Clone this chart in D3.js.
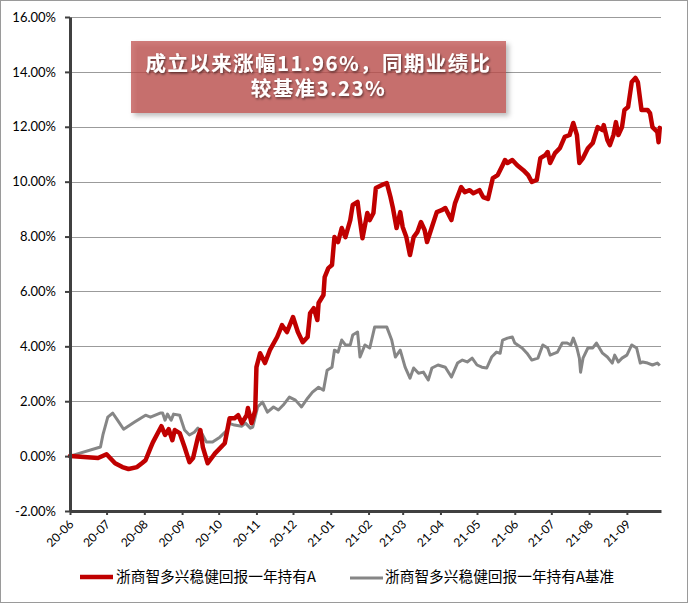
<!DOCTYPE html>
<html>
<head>
<meta charset="utf-8">
<script src="https://cdn.jsdelivr.net/npm/d3@7"></script>
<style>
html,body{margin:0;padding:0;background:#fff;}
svg{display:block;}
</style>
</head>
<body>
<svg id="chart" width="688" height="603"></svg>
<script>
// ---------------- DATA ----------------
const fundName = "浙商智多兴稳健回报一年持有A";
const benchName = "浙商智多兴稳健回报一年持有A基准";
const noteLines = ["成立以来涨幅11.96%，同期业绩比", "较基准3.23%"];
const yTicks = [-2, 0, 2, 4, 6, 8, 10, 12, 14, 16];
const xTickLabels = ["2020-06","2020-07","2020-08","2020-09","2020-10","2020-11","2020-12","2021-01","2021-02","2021-03","2021-04","2021-05","2021-06","2021-07","2021-08","2021-09"];

const fundDates = ["2020-06-01","2020-06-24","2020-07-01","2020-07-08","2020-07-14","2020-07-19","2020-07-26","2020-07-30","2020-08-02","2020-08-06","2020-08-08","2020-08-15","2020-08-18","2020-08-21","2020-08-24","2020-08-26","2020-08-30","2020-09-03","2020-09-07","2020-09-10","2020-09-14","2020-09-16","2020-09-18","2020-09-22","2020-09-28","2020-10-06","2020-10-10","2020-10-14","2020-10-17","2020-10-20","2020-10-24","2020-10-25","2020-10-28","2020-10-31","2020-11-01","2020-11-04","2020-11-08","2020-11-12","2020-11-18","2020-11-22","2020-11-26","2020-12-01","2020-12-05","2020-12-09","2020-12-13","2020-12-15","2020-12-18","2020-12-21","2020-12-22","2020-12-26","2020-12-27","2020-12-30","2021-01-02","2021-01-04","2021-01-07","2021-01-10","2021-01-13","2021-01-17","2021-01-19","2021-01-23","2021-01-24","2021-01-27","2021-01-31","2021-02-02","2021-02-05","2021-02-07","2021-02-12","2021-02-16","2021-02-19","2021-02-21","2021-02-24","2021-02-27","2021-03-01","2021-03-04","2021-03-07","2021-03-10","2021-03-13","2021-03-16","2021-03-19","2021-03-21","2021-03-25","2021-03-29","2021-04-02","2021-04-05","2021-04-10","2021-04-13","2021-04-18","2021-04-21","2021-04-25","2021-04-28","2021-05-03","2021-05-06","2021-05-10","2021-05-14","2021-05-18","2021-05-22","2021-05-24","2021-05-26","2021-05-30","2021-06-03","2021-06-08","2021-06-12","2021-06-15","2021-06-19","2021-06-22","2021-06-26","2021-06-28","2021-06-30","2021-07-04","2021-07-08","2021-07-12","2021-07-16","2021-07-19","2021-07-22","2021-07-24","2021-07-27","2021-07-31","2021-08-04","2021-08-08","2021-08-12","2021-08-13","2021-08-16","2021-08-18","2021-08-21","2021-08-23","2021-08-25","2021-08-28","2021-08-30","2021-09-02","2021-09-05","2021-09-08","2021-09-10","2021-09-13","2021-09-18","2021-09-20","2021-09-22","2021-09-26","2021-09-27","2021-09-28"];
const fundValues = [0,-0.07,0.07,-0.26,-0.4,-0.47,-0.4,-0.26,-0.15,0.29,0.5,1.09,0.77,0.98,0.58,0.95,0.84,0.33,-0.22,-0.07,0.69,0.95,0.33,-0.26,0.1,0.47,1.38,1.38,1.49,1.2,1.49,1.75,1.2,1.67,3.24,3.75,3.39,3.86,4.34,4.77,4.52,5.07,4.52,4.15,4.34,5.2,5.39,4.96,5.58,5.87,6.52,6.85,6.96,7.98,7.8,8.31,7.98,8.6,9.15,9.26,8.89,7.94,8.86,8.6,8.86,9.77,9.88,9.95,9.44,9.04,8.31,8.89,8.35,7.98,7.33,7.98,8.16,8.53,8.24,7.8,8.35,8.89,8.96,9.04,8.6,9.22,9.8,9.62,9.69,9.58,9.69,9.44,9.37,10.13,10.24,10.6,10.79,10.68,10.79,10.6,10.42,10.24,9.99,10.06,10.86,10.97,11.08,10.68,11.04,11.22,11.63,11.7,12.14,11.7,10.68,10.86,11.22,11.41,11.99,11.88,12.06,11.52,11.33,11.7,12.17,11.7,11.99,12.61,12.72,13.63,13.78,13.63,12.61,12.61,12.5,11.99,11.81,11.44,11.96];

const benchDates = ["2020-06-01","2020-06-26","2020-06-28","2020-07-02","2020-07-06","2020-07-10","2020-07-15","2020-07-24","2020-08-02","2020-08-06","2020-08-14","2020-08-16","2020-08-18","2020-08-20","2020-08-23","2020-08-25","2020-08-30","2020-09-03","2020-09-07","2020-09-11","2020-09-14","2020-09-17","2020-09-21","2020-09-26","2020-10-02","2020-10-08","2020-10-09","2020-10-14","2020-10-20","2020-10-23","2020-10-27","2020-10-29","2020-11-02","2020-11-06","2020-11-10","2020-11-15","2020-11-19","2020-11-23","2020-11-28","2020-12-03","2020-12-08","2020-12-13","2020-12-17","2020-12-22","2020-12-26","2020-12-29","2021-01-02","2021-01-04","2021-01-07","2021-01-10","2021-01-13","2021-01-17","2021-01-19","2021-01-23","2021-01-25","2021-01-29","2021-02-02","2021-02-06","2021-02-10","2021-02-16","2021-02-20","2021-02-23","2021-02-27","2021-03-03","2021-03-07","2021-03-10","2021-03-14","2021-03-18","2021-03-22","2021-03-25","2021-03-30","2021-04-05","2021-04-10","2021-04-15","2021-04-19","2021-04-23","2021-04-27","2021-05-01","2021-05-05","2021-05-09","2021-05-13","2021-05-17","2021-05-20","2021-05-22","2021-05-26","2021-05-30","2021-06-01","2021-06-07","2021-06-11","2021-06-15","2021-06-20","2021-06-24","2021-06-28","2021-06-30","2021-07-04","2021-07-06","2021-07-10","2021-07-14","2021-07-17","2021-07-19","2021-07-22","2021-07-24","2021-07-25","2021-07-27","2021-07-31","2021-08-04","2021-08-07","2021-08-12","2021-08-16","2021-08-20","2021-08-22","2021-08-25","2021-08-28","2021-09-01","2021-09-05","2021-09-09","2021-09-12","2021-09-14","2021-09-18","2021-09-22","2021-09-26","2021-09-28"];
const benchValues = [0,0.33,0.77,1.42,1.57,1.31,0.98,1.24,1.49,1.42,1.57,1.57,1.31,1.53,1.31,1.53,1.49,0.95,0.77,0.87,1.02,0.84,0.51,0.51,0.69,0.95,1.2,1.13,1.09,1.2,1.02,1.06,1.79,1.97,1.6,1.79,1.68,1.86,2.15,2.04,1.79,2.11,2.33,2.51,2.4,3.13,3.24,3.86,3.79,4.23,4.05,4.05,4.41,4.52,3.61,4.05,3.94,4.7,4.7,4.7,4.23,3.61,3.86,3.24,2.84,3.21,3.02,3.06,2.77,3.21,3.32,3.24,2.88,3.39,3.5,3.43,3.57,3.32,3.24,3.21,3.61,3.79,3.75,4.23,4.3,4.34,4.12,3.94,3.75,3.5,3.57,4.05,3.94,3.68,3.75,3.79,4.12,4.12,4.05,4.3,3.94,3.57,3.06,3.57,3.94,3.94,4.12,3.75,3.61,3.39,3.68,3.43,3.57,3.68,4.05,3.94,3.39,3.43,3.39,3.32,3.39,3.3];

// ---------------- CHART ----------------
(function () {
const parse = d3.timeParse("%Y-%m-%d");
const parseM = d3.timeParse("%Y-%m");
const fund = fundDates.map((d, i) => ({date: parse(d), v: fundValues[i]}));
const bench = benchDates.map((d, i) => ({date: parse(d), v: benchValues[i]}));

const svg = d3.select("#chart");
const W = 688, H = 603;
const pL = 70, pR = 661, pT = 17, pB = 511;

const x = d3.scaleTime().domain([parse("2020-06-01"), parse("2021-09-29")]).range([pL, pR]);
const y = d3.scaleLinear().domain([-2, 16]).range([pB, pT]);

const defs = svg.append("defs");
const f1 = defs.append("filter").attr("id", "boxShadow").attr("x", "-10%").attr("y", "-20%").attr("width", "130%").attr("height", "150%");
f1.append("feDropShadow").attr("dx", 3).attr("dy", 3).attr("stdDeviation", 2.5).attr("flood-color", "#000").attr("flood-opacity", 0.35);
const f2 = defs.append("filter").attr("id", "textShadow").attr("x", "-10%").attr("y", "-30%").attr("width", "130%").attr("height", "160%");
f2.append("feDropShadow").attr("dx", 1).attr("dy", 1.5).attr("stdDeviation", 1.2).attr("flood-color", "#000").attr("flood-opacity", 0.55);

// background + border
svg.append("rect").attr("x", 0.5).attr("y", 0.5).attr("width", W - 1).attr("height", H - 1)
  .attr("fill", "#fff").attr("stroke", "#9a9a9a").attr("stroke-width", 1);

// gridlines
svg.append("g").selectAll("line").data(yTicks).join("line")
  .attr("x1", pL).attr("x2", pR)
  .attr("y1", d => Math.round(y(d)) + 0.5).attr("y2", d => Math.round(y(d)) + 0.5)
  .attr("stroke", "#9b9b9b").attr("stroke-width", 1);

// lines
const line = d3.line().x(d => x(d.date)).y(d => y(d.v)).curve(d3.curveLinear);
svg.append("path").datum(bench).attr("d", line)
  .attr("fill", "none").attr("stroke", "#868686").attr("stroke-width", 3).attr("stroke-linejoin", "round");
svg.append("path").datum(fund).attr("d", line)
  .attr("fill", "none").attr("stroke", "#C00000").attr("stroke-width", 4.5).attr("stroke-linejoin", "round").attr("stroke-linecap", "round");

// y axis
const yAxis = svg.append("g").attr("transform", `translate(${pL},0)`)
  .call(d3.axisLeft(y).tickValues(yTicks).tickFormat(d => d.toFixed(2) + "%").tickSize(5).tickSizeOuter(0).tickPadding(9));
yAxis.select(".domain").attr("stroke", "#404040").attr("stroke-width", 3);
yAxis.selectAll(".tick line").attr("stroke", "#404040").attr("stroke-width", 2);
yAxis.selectAll("text").attr("font-family", "Lato, 'Open Sans', sans-serif").attr("font-size", 13).attr("fill", "#000");

// x axis
const xTicks = xTickLabels.map(parseM);
const xAxis = svg.append("g").attr("transform", `translate(0,${pB})`)
  .call(d3.axisBottom(x).tickValues(xTicks).tickFormat(d3.timeFormat("%y-%m")).tickSize(4).tickSizeOuter(0));
xAxis.select(".domain").attr("stroke", "#404040").attr("stroke-width", 3);
xAxis.selectAll(".tick line").attr("stroke", "#404040").attr("stroke-width", 2);
xAxis.selectAll("text")
  .attr("font-family", "Lato, 'Open Sans', sans-serif").attr("font-size", 12).attr("fill", "#000")
  .attr("x", 0).attr("y", 0).attr("dy", "0.35em")
  .attr("text-anchor", "end")
  .attr("transform", "translate(1,11) rotate(-45)");

// annotation box
const bx = 131, by = 41, bw = 375, bh = 72;
svg.append("rect").attr("x", bx).attr("y", by).attr("width", bw).attr("height", bh)
  .attr("fill", "#C0504D").attr("fill-opacity", 0.74).attr("filter", "url(#boxShadow)");
const note = svg.append("g")
  .attr("font-family", "'Noto Sans CJK SC', sans-serif").attr("font-size", 20.5).attr("font-weight", "bold")
  .attr("fill", "#fff").attr("text-anchor", "middle").attr("letter-spacing", "1.4px").attr("filter", "url(#textShadow)");
noteLines.forEach((t, i) => {
  note.append("text").attr("x", bx + bw / 2).attr("y", 71 + i * 25).text(t);
});

// legend
const lg = svg.append("g").attr("font-family", "'Noto Sans CJK SC', sans-serif").attr("font-size", 14.7).attr("fill", "#000");
lg.append("line").attr("x1", 80).attr("x2", 113).attr("y1", 577).attr("y2", 577).attr("stroke", "#C00000").attr("stroke-width", 4.5);
lg.append("text").attr("x", 116).attr("y", 582).text(fundName);
lg.append("line").attr("x1", 350).attr("x2", 383).attr("y1", 578).attr("y2", 578).attr("stroke", "#868686").attr("stroke-width", 3);
lg.append("text").attr("x", 385).attr("y", 582).text(benchName);
})();
</script>
</body>
</html>
